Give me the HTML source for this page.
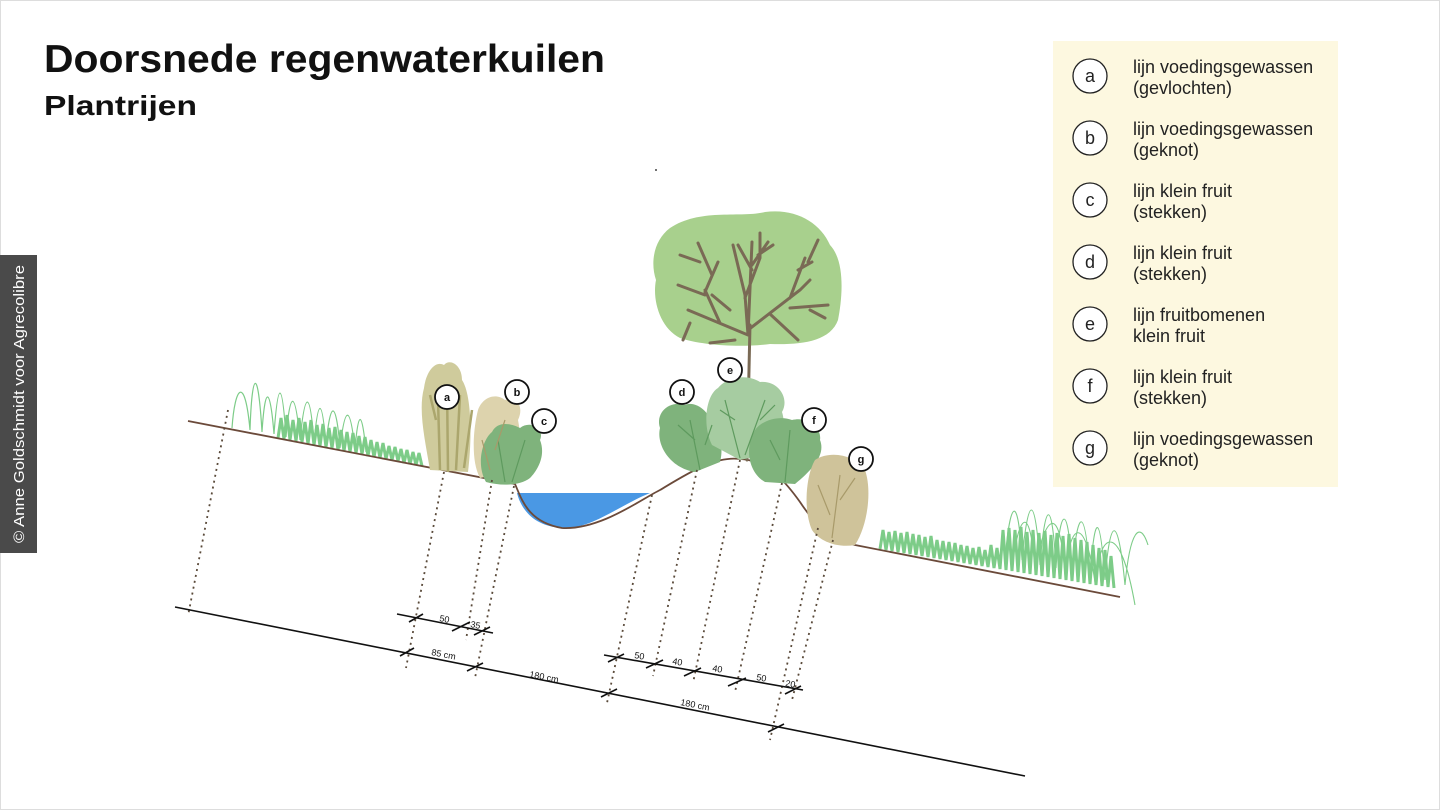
<!DOCTYPE html>
<html><head><meta charset="utf-8"><style>
html,body{margin:0;padding:0;background:#fff;}
body{width:1440px;height:810px;overflow:hidden;position:relative;font-family:"Liberation Sans",sans-serif;}
</style></head><body>
<svg width="1440" height="810" viewBox="0 0 1440 810" xmlns="http://www.w3.org/2000/svg" style="position:absolute;left:0;top:0">
<rect x="0.5" y="0.5" width="1439" height="809" fill="#fff" stroke="#ddd"/>
<text x="44" y="72" font-size="39" font-weight="bold" fill="#111" textLength="561" lengthAdjust="spacingAndGlyphs">Doorsnede regenwaterkuilen</text>
<text x="44" y="115" font-size="28" font-weight="bold" fill="#111" textLength="153" lengthAdjust="spacingAndGlyphs">Plantrijen</text>
<rect x="0" y="255" width="37" height="298" fill="#4a4a4a"/>
<text transform="translate(24,543) rotate(-90)" font-size="15" fill="#fff" textLength="278" lengthAdjust="spacingAndGlyphs">© Anne Goldschmidt voor Agrecolibre</text>
<rect x="1053" y="41" width="285" height="446" fill="#fdf8e0"/>
<g font-size="18" fill="#222">
<g fill="#fff" stroke="#222" stroke-width="1.3">
<circle cx="1090" cy="76" r="17"/><circle cx="1090" cy="138" r="17"/><circle cx="1090" cy="200" r="17"/><circle cx="1090" cy="262" r="17"/><circle cx="1090" cy="324" r="17"/><circle cx="1090" cy="386" r="17"/><circle cx="1090" cy="448" r="17"/>
</g>
<g text-anchor="middle"><text x="1090" y="82">a</text><text x="1090" y="144">b</text><text x="1090" y="206">c</text><text x="1090" y="268">d</text><text x="1090" y="330">e</text><text x="1090" y="392">f</text><text x="1090" y="454">g</text></g>
<text x="1133" y="73">lijn voedingsgewassen</text><text x="1133" y="94">(gevlochten)</text>
<text x="1133" y="135">lijn voedingsgewassen</text><text x="1133" y="156">(geknot)</text>
<text x="1133" y="197">lijn klein fruit</text><text x="1133" y="218">(stekken)</text>
<text x="1133" y="259">lijn klein fruit</text><text x="1133" y="280">(stekken)</text>
<text x="1133" y="321">lijn fruitbomenen</text><text x="1133" y="342">klein fruit</text>
<text x="1133" y="383">lijn klein fruit</text><text x="1133" y="404">(stekken)</text>
<text x="1133" y="445">lijn voedingsgewassen</text><text x="1133" y="466">(geknot)</text>
</g>
<path d="M517,493 L650,493 C620,505 590,530 562,528 C530,526 520,505 517,493 Z" fill="#4a98e4"/>
<g fill="none" stroke="#7dcc88" stroke-width="1.2">
<path d="M232,428 C235,385 245,375 250,430 C252,370 258,365 262,432 C265,385 270,385 274,434 C278,380 282,378 286,437 C290,390 295,388 300,440 C305,390 310,388 314,443 C318,398 322,395 326,446 C330,400 336,398 340,448 C345,405 350,403 355,450 C358,410 362,408 366,452"/>
</g>
<polyline fill="none" stroke="#7dcc88" stroke-width="3" points="278,438 281,418 284,439 287,415 290,440 293,420 296,441 299,418 302,442 305,422 308,444 311,420 314,445 317,425 320,446 323,424 326,447 329,428 332,448 335,427 338,450 341,430 344,451 347,432 350,452 353,433 356,453 359,436 362,454 365,437 368,456 371,440 374,457 377,442 380,458 383,443 386,459 389,446 392,460 395,447 398,461 401,449 404,463 407,450 410,464 413,452 416,465 419,453 422,466"/>
<polyline fill="none" stroke="#7dcc88" stroke-width="3" points="880,549 883,530 886,550 889,532 892,551 895,531 898,552 901,533 904,553 907,532 910,554 913,534 916,555 919,535 922,556 925,537 928,557 931,536 934,558 937,540 940,559 943,541 946,560 949,542 952,561 955,543 958,562 961,545 964,563 967,546 970,564 973,548 976,565 979,547 982,566 985,550 988,567 991,545 994,568 997,548 1000,569 1003,530 1006,570 1009,528 1012,571 1015,530 1018,572 1021,527 1024,573 1027,532 1030,574 1033,530 1036,575 1039,533 1042,576 1045,531 1048,577 1051,535 1054,578 1057,533 1060,579 1063,536 1066,580 1069,534 1072,581 1075,538 1078,582 1081,540 1084,583 1087,542 1090,584 1093,545 1096,585 1099,548 1102,586 1105,550 1108,587 1111,556 1114,588"/>
<path fill="none" stroke="#7dcc88" stroke-width="1.1" d="M1005,560 C1010,500 1018,490 1022,560 C1028,495 1035,490 1040,565 C1045,500 1052,495 1056,568 C1060,505 1068,500 1072,570 C1078,505 1085,505 1090,575 C1095,510 1100,512 1105,580 C1110,515 1118,512 1125,585 C1130,530 1140,520 1148,545 M1012,565 C1020,510 1030,505 1035,568 C1045,515 1060,500 1065,575 C1070,520 1085,515 1095,582 C1100,530 1120,520 1135,605"/>
<path d="M188,421 L515,484 C522,500 528,522 562,528 C600,530 640,500 660,490 C690,472 715,456 740,459 C770,460 790,488 800,502 C812,520 825,537 855,545 L1120,597" fill="none" stroke="#6b4a3a" stroke-width="1.8"/>
<path d="M670,228 C700,208 740,218 765,212 C795,208 820,222 830,245 C846,262 842,300 838,320 C830,342 800,345 770,344 C740,348 700,345 680,338 C660,328 652,300 656,280 C650,262 654,240 670,228 Z" fill="#a8d08d"/>
<g stroke="#7a6a55" stroke-width="3" fill="none" stroke-linecap="round">
<line x1="747" y1="460" x2="750" y2="325"/>
<path d="M748,335 L688,310 M720,323 L705,290 M705,295 L678,285 M705,292 L718,262 M712,275 L698,243 M748,335 L745,295 L733,245 M745,298 L760,258 L760,233 M758,255 L773,245 M748,330 L800,290 L810,280 M790,298 L805,258 M798,270 L812,262 M770,314 L798,340 M790,308 L828,305 M810,310 L825,318 M735,340 L710,343 M690,323 L683,340 M748,335 L752,242 M752,270 L738,245 M752,265 L768,242 M730,310 L712,295 M680,255 L700,262 M818,240 L808,262"/>
</g>
<g>
<path d="M430,470 C425,440 418,410 424,388 C426,372 435,360 444,365 C450,358 462,365 462,380 C472,395 472,440 468,472 Z" fill="#cfcb9c"/>
<g stroke="#aba66d" stroke-width="2.5" fill="none"><path d="M440,470 L438,400 M448,472 L447,385 M456,470 L460,395 M464,468 L472,410 M436,420 L430,395"/></g>
<path d="M480,478 C470,460 474,425 478,410 C482,398 495,392 505,400 C515,396 525,405 518,420 C522,440 520,455 515,470 Z" fill="#ddd3ad"/>
<path d="M486,482 C476,465 482,440 492,432 C498,420 512,424 520,428 C530,420 545,428 540,440 C546,455 538,470 530,478 C520,486 500,486 486,482 Z" fill="#7fb37c"/>
<path d="M695,472 C670,468 656,445 660,428 C655,412 670,400 685,405 C695,400 712,412 712,428 C724,440 722,455 720,462 Z" fill="#7fb37c"/>
<path d="M712,445 C702,425 706,395 718,388 C728,376 748,374 760,382 C778,380 790,398 782,412 C788,430 775,445 762,455 L740,460 Z" fill="#a6cca1"/>
<path d="M765,482 C748,472 745,448 754,432 C760,420 780,415 792,420 C808,416 822,428 820,440 C826,455 812,470 795,484 Z" fill="#7fb37c"/>
<path d="M812,530 C803,510 806,475 815,460 C830,450 855,455 865,470 C872,490 868,525 855,545 C838,548 820,542 812,530 Z" fill="#cfc39a"/>
<g stroke="#5e9a5e" stroke-width="1.2" fill="none"><path d="M700,470 L690,420 M695,440 L678,425 M740,458 L725,400 M745,455 L765,400 M785,482 L790,430 M780,460 L770,440 M505,482 L498,440 M512,482 L525,440 M735,420 L720,410 M760,420 L775,405 M705,445 L712,425"/></g>
<g stroke="#a89a6a" stroke-width="1.2" fill="none"><path d="M832,538 L840,475 M830,515 L818,485 M840,500 L855,478 M490,470 L482,440 M495,450 L505,420"/></g>
</g>
<g fill="#fff" stroke="#111" stroke-width="1.8">
<circle cx="447" cy="397" r="12"/><circle cx="517" cy="392" r="12"/><circle cx="544" cy="421" r="12"/><circle cx="682" cy="392" r="12"/><circle cx="730" cy="370" r="12"/><circle cx="814" cy="420" r="12"/><circle cx="861" cy="459" r="12"/>
</g>
<g font-size="11" font-weight="bold" text-anchor="middle" fill="#111">
<text x="447" y="401">a</text><text x="517" y="396">b</text><text x="544" y="425">c</text><text x="682" y="396">d</text><text x="730" y="374">e</text><text x="814" y="424">f</text><text x="861" y="463">g</text>
</g>
<g stroke="#5a4a3a" stroke-width="1.8" stroke-dasharray="2,4">
<line x1="228" y1="410" x2="188" y2="616"/>
<line x1="444" y1="472" x2="406" y2="668"/>
<line x1="492" y1="480" x2="466" y2="640"/>
<line x1="514" y1="486" x2="475" y2="678"/>
<line x1="652" y1="495" x2="607" y2="703"/>
<line x1="697" y1="470" x2="653" y2="676"/>
<line x1="740" y1="460" x2="693" y2="683"/>
<line x1="782" y1="483" x2="735" y2="692"/>
<line x1="818" y1="528" x2="770" y2="740"/>
<line x1="833" y1="540" x2="792" y2="700"/>
</g>
<g stroke="#111" stroke-width="1.6">
<line x1="175" y1="607" x2="1025" y2="776"/>
<line x1="397" y1="614" x2="493" y2="633"/>
<line x1="604" y1="655" x2="803" y2="690"/>
<line x1="400" y1="656" x2="414" y2="648"/>
<line x1="467" y1="671" x2="483" y2="663"/>
<line x1="601" y1="697" x2="617" y2="689"/>
<line x1="768" y1="732" x2="784" y2="724"/>
<line x1="409" y1="622" x2="423" y2="614"/>
<line x1="452" y1="631" x2="470" y2="622"/>
<line x1="474" y1="635" x2="490" y2="627"/>
<line x1="608" y1="662" x2="624" y2="654"/>
<line x1="646" y1="668" x2="663" y2="660"/>
<line x1="684" y1="676" x2="701" y2="668"/>
<line x1="728" y1="686" x2="746" y2="678"/>
<line x1="785" y1="694" x2="801" y2="686"/>
</g>
<g font-size="9" fill="#111">
<text x="439" y="621" transform="rotate(11 439 621)">50</text>
<text x="470" y="627" transform="rotate(11 470 627)">35</text>
<text x="431" y="655" transform="rotate(11 431 655)">85 cm</text>
<text x="529" y="677" transform="rotate(11 529 677)">180 cm</text>
<text x="634" y="658" transform="rotate(10 634 658)">50</text>
<text x="672" y="664" transform="rotate(10 672 664)">40</text>
<text x="712" y="671" transform="rotate(10 712 671)">40</text>
<text x="756" y="680" transform="rotate(10 756 680)">50</text>
<text x="785" y="686" transform="rotate(10 785 686)">20</text>
<text x="680" y="705" transform="rotate(11 680 705)">180 cm</text>
</g>
<circle cx="656" cy="170" r="1" fill="#444"/>
</svg>
</body></html>
